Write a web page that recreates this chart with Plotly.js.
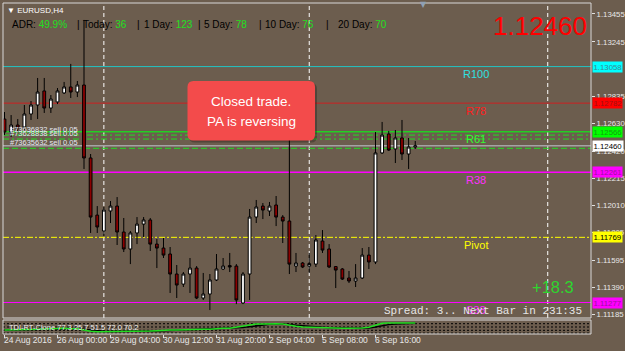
<!DOCTYPE html>
<html><head><meta charset="utf-8">
<script src="https://cdn.plot.ly/plotly-3.0.1.min.js"></script>
<style>html,body{margin:0;padding:0;background:#6c5d4e;overflow:hidden}#chart{width:625px;height:351px}</style>
</head><body><div id="chart"></div>
<script>
// ---------------- DATA ----------------
const barTimes = [
"24 Aug 16:00","24 Aug 20:00",
"25 Aug 00:00","25 Aug 04:00","25 Aug 08:00","25 Aug 12:00","25 Aug 16:00","25 Aug 20:00",
"26 Aug 00:00","26 Aug 04:00","26 Aug 08:00","26 Aug 12:00","26 Aug 16:00","26 Aug 20:00",
"28 Aug 20:00",
"29 Aug 00:00","29 Aug 04:00","29 Aug 08:00","29 Aug 12:00","29 Aug 16:00","29 Aug 20:00",
"30 Aug 00:00","30 Aug 04:00","30 Aug 08:00","30 Aug 12:00","30 Aug 16:00","30 Aug 20:00",
"31 Aug 00:00","31 Aug 04:00","31 Aug 08:00","31 Aug 12:00","31 Aug 16:00","31 Aug 20:00",
"1 Sep 00:00","1 Sep 04:00","1 Sep 08:00","1 Sep 12:00","1 Sep 16:00","1 Sep 20:00",
"2 Sep 00:00","2 Sep 04:00","2 Sep 08:00","2 Sep 12:00","2 Sep 16:00","2 Sep 20:00",
"4 Sep 20:00",
"5 Sep 00:00","5 Sep 04:00","5 Sep 08:00","5 Sep 12:00","5 Sep 16:00","5 Sep 20:00",
"6 Sep 00:00","6 Sep 04:00","6 Sep 08:00","6 Sep 12:00","6 Sep 16:00","6 Sep 20:00",
"7 Sep 00:00","7 Sep 04:00","7 Sep 08:00","7 Sep 12:00","7 Sep 16:00"
];
const openP = [1.12662,1.12564,1.12617,1.12602,1.12700,1.12768,1.12874,1.12745,1.12791,1.12859,
1.12904,1.12866,1.12919,1.12368,1.11937,1.11817,1.11968,1.12005,1.11809,1.11681,
1.11802,1.11869,1.11900,1.11718,1.11688,1.11643,1.11492,1.11416,1.11492,1.11537,
1.11311,1.11341,1.11447,1.11530,1.11556,1.11552,1.11273,1.11492,1.11922,1.12005,
1.11968,1.12013,1.11922,1.11892,1.11552,1.11575,1.11552,1.11567,1.11741,1.11681,
1.11548,1.11530,1.11462,1.11439,1.11462,1.11635,1.11583,1.12406,1.12549,1.12436,
1.12519,1.12398,1.12451];
const highP = [1.12715,1.12692,1.12662,1.12768,1.12798,1.12972,1.12972,1.12843,1.12896,1.12942,
1.13078,1.12949,1.13410,1.12398,1.12005,1.11998,1.12043,1.12073,1.11915,1.11817,
1.11922,1.11922,1.11915,1.11756,1.11764,1.11696,1.11560,1.11507,1.11613,1.11552,
1.11500,1.11492,1.11643,1.11613,1.11651,1.11567,1.11507,1.11983,1.12051,1.12028,
1.12036,1.12081,1.11937,1.12730,1.11651,1.11583,1.11651,1.11786,1.11824,1.11718,
1.11552,1.11537,1.11515,1.11567,1.11688,1.11696,1.12564,1.12640,1.12572,1.12579,
1.12655,1.12519,1.12496];
const lowP = [1.12541,1.12526,1.12557,1.12579,1.12655,1.12662,1.12708,1.12708,1.12775,1.12851,
1.12821,1.12828,1.12285,1.11802,1.11802,1.11779,1.11877,1.11711,1.11658,1.11567,
1.11718,1.11771,1.11666,1.11537,1.11613,1.11349,1.11311,1.11394,1.11349,1.11303,
1.11296,1.11220,1.11439,1.11522,1.11507,1.11265,1.11265,1.11296,1.11877,1.11907,
1.11930,1.11854,1.11726,1.11492,1.11507,1.11537,1.11500,1.11545,1.11651,1.11537,
1.11386,1.11447,1.11424,1.11394,1.11454,1.11530,1.11567,1.12398,1.12421,1.12330,
1.12353,1.12285,1.12436];
const closeP = [1.12564,1.12617,1.12594,1.12700,1.12768,1.12866,1.12745,1.12813,1.12874,1.12904,
1.12866,1.12919,1.12368,1.11922,1.11847,1.11975,1.12005,1.11809,1.11681,1.11802,
1.11869,1.11900,1.11718,1.11688,1.11635,1.11492,1.11409,1.11492,1.11537,1.11311,
1.11341,1.11447,1.11530,1.11552,1.11545,1.11296,1.11492,1.11922,1.11998,1.11975,
1.12005,1.11922,1.11892,1.11567,1.11575,1.11545,1.11571,1.11749,1.11673,1.11545,
1.11522,1.11454,1.11439,1.11462,1.11635,1.11583,1.12406,1.12541,1.12428,1.12519,
1.12398,1.12451,1.12460];

const tdiGreen = [33.7,33.7,33.7,35.5,37.3,37.3,39.1,40.9,42.7,42.7,
40.9,40.9,33.7,26.4,24.6,24.6,26.4,26.4,24.6,26.4,
26.4,28.2,28.2,30.0,33.7,33.7,33.7,35.5,35.5,35.5,
37.3,37.3,40.9,42.7,42.7,48.2,53.6,60.9,66.4,66.4,
68.2,68.2,66.4,59.1,53.6,50.0,48.2,48.2,46.4,44.6,
42.7,42.7,42.7,42.7,44.6,48.2,60.9,70.5,72.0,72.0,
72.0,72.0,72.0];
const tdiSignal = [34.0,34.0,34.0,34.5,35.5,36.5,37.5,38.5,40.0,41.0,
41.5,41.0,38.0,33.0,29.0,26.5,25.5,25.5,25.5,25.5,
26.0,26.5,27.5,28.5,30.0,31.5,32.5,33.5,34.5,35.0,
35.5,36.5,38.0,39.5,41.0,43.5,47.0,52.0,57.0,61.5,
64.5,66.5,66.5,64.0,60.0,56.0,52.5,50.0,48.0,46.5,
45.0,44.0,43.5,43.0,43.5,44.5,50.0,57.0,63.0,66.5,
68.5,69.5,70.2];
const tdiLevels = [68, 50, 32, 17];
const tdiLabel = "TDI-RT-Clone 77.3 25.7 51.5 72.0 70.2";

const tickBars = ["24 Aug 16:00","26 Aug 00:00","29 Aug 04:00","30 Aug 12:00","31 Aug 20:00","2 Sep 04:00","5 Sep 08:00","6 Sep 16:00"];
const tickText = ["24 Aug 2016","26 Aug 00:00","29 Aug 04:00","30 Aug 12:00","31 Aug 20:00","2 Sep 04:00","5 Sep 08:00","6 Sep 16:00"];
const separatorBars = ["29 Aug 00:00","5 Sep 00:00", 82];

const yTicks = [1.13455,1.13245,1.12835,1.12630,1.12420,1.12215,1.12010,1.11805,1.11595,1.11390,1.11185];

const levelNames  = ["R138","R100","R78","R61","R38","Pivot","S38"];
const levelValues = [1.13555,1.13058,1.12782,1.12566,1.12261,1.11769,1.11277];
const levelLine   = ["#e8a020","#22c4c4","#cc2020","#22d022","#ff00ff","#ffff00","#ff00ff"];
const levelText   = ["#f0a020","#30e0e0","#ff2020","#30ff30","#ff30ff","#ffff00","#ff30ff"];
const levelDash   = ["solid","solid","solid","solid","solid","6px,2px,2px,2px","solid"];
const levelWidth  = [1,1,1,1.5,1.5,1,1];

const tagValues = [1.13058,1.12782,1.12566,1.12460,1.12261,1.11769,1.11277];
const tagBg     = ["#00ffff","#ff0000","#00ff00","#ffffff","#ff00ff","#ffff00","#ff00ff"];
const tagFg     = ["#3a8a96","#a01010","#10a010","#000000","#a010a0","#000000","#a010a0"];

const orderPrices = [1.12541,1.12511,1.12441];
const orderLabels = ["#73636832 sell 0.05","#73628838 sell 0.05","#73635632 sell 0.05"];

const adrLabels = ["ADR:","Today:","1 Day:","5 Day:","10 Day:","20 Day:"];
const adrValues = ["49.9%","36","123","78","76","70"];
const symbolLabel = "EURUSD,H4";
const profitText = "+18.3";
const spreadText = "Spread: 3.. Next Bar in 231:35";
const noteLines = ["Closed trade.","PA is reversing"];

// ---------------- LAYOUT HELPERS ----------------
const W=625,H=351,ML=3,MR=34,MT=3,MB=17;
const PW=W-ML-MR, PH=H-MT-MB;
const px = x => (x-ML)/PW;
const py = y => (H-MB-y)/PH;
const mainBottom = 318, tdiTop = 320;
const mainDomain = [(H-MB-mainBottom)/PH, 1];
const tdiDomain = [0, (H-MB-tdiTop)/PH];
const FONT = "Liberation Sans, Arial, sans-serif";
const BG = "#6c5d4e";

const shapes = [];
const annotations = [];

separatorBars.forEach(b => shapes.push({type:'line', xref:'x', yref:'paper', x0:b, x1:b, y0:mainDomain[0], y1:1,
  line:{color:'#ffffff', width:1, dash:'4px,3px'}, layer:'below'}));

levelValues.forEach((v,i) => {
  shapes.push({type:'line', xref:'paper', yref:'y', x0:0, x1:1, y0:v, y1:v,
    line:{color:levelLine[i], width:levelWidth[i], dash:levelDash[i]}, layer:'below'});
});
const orderDash = ["6px,3px,2px,3px","6px,3px,2px,3px","6px,3px"];
orderPrices.forEach((v,i) => shapes.push({type:'line', xref:'paper', yref:'y', x0:0, x1:1, y0:v, y1:v,
  line:{color:'#22dd22', width:1, dash:orderDash[i]}, layer:'below'}));
const lastClose = closeP[closeP.length-1];
shapes.push({type:'line', xref:'paper', yref:'y', x0:0, x1:1, y0:lastClose, y1:lastClose,
  line:{color:'#a4a4a4', width:1.5}, layer:'below'});

tdiLevels.forEach(v => shapes.push({type:'line', xref:'paper', yref:'y2', x0:0, x1:1, y0:v, y1:v,
  line:{color:'#000000', width:1, dash:'2px,2px'}, layer:'below'}));

shapes.push({type:'rect', xref:'x domain', yref:'y domain', x0:0, x1:1, y0:0, y1:1, line:{color:'#d8d8d8', width:1}, layer:'above'});
shapes.push({type:'rect', xref:'x domain', yref:'y2 domain', x0:0, x1:1, y0:0, y1:1, line:{color:'#d8d8d8', width:1}, layer:'above'});

function roundRect(x0,y0,x1,y1,r){
  const X=v=>px(v), Y=v=>py(v);
  return `M${X(x0+r)},${Y(y0)} L${X(x1-r)},${Y(y0)} Q${X(x1)},${Y(y0)} ${X(x1)},${Y(y0+r)} L${X(x1)},${Y(y1-r)} Q${X(x1)},${Y(y1)} ${X(x1-r)},${Y(y1)} L${X(x0+r)},${Y(y1)} Q${X(x0)},${Y(y1)} ${X(x0)},${Y(y1-r)} L${X(x0)},${Y(y0+r)} Q${X(x0)},${Y(y0)} ${X(x0+r)},${Y(y0)} Z`;
}
shapes.push({type:'path', xref:'paper', yref:'paper', path:roundRect(189,83,317,142.5,6), fillcolor:'rgba(0,0,0,0.25)', line:{width:0}, layer:'above'});
shapes.push({type:'path', xref:'paper', yref:'paper', path:roundRect(187.5,81,315,140.5,6), fillcolor:'#f34b4b', line:{width:0}, layer:'above'});

const A = o => annotations.push(Object.assign({showarrow:false, borderpad:0}, o));

levelNames.forEach((n,i) => A({text:n, xref:'paper', yref:'y', x:px(476), y:levelValues[i], xanchor:'center', yanchor:'top', yshift:-0.5,
  font:{family:FONT, size:11, color:levelText[i]}}));

orderPrices.forEach((v,i) => A({text:orderLabels[i], xref:'paper', yref:'y', x:px(9), y:v, xanchor:'left', yanchor:'bottom', yshift:0.5,
  font:{family:FONT, size:7.5, color:'#e4e8f2'}}));

A({text:'▼ '+symbolLabel, xref:'paper', yref:'paper', x:px(6), y:py(10), xanchor:'left', yanchor:'middle', font:{family:FONT, size:8, color:'#ffffff'}});
const adrX = [11, 82, 143, 203, 264, 337];
const sepX = [76, 136, 197, 258, 325];
adrLabels.forEach((l,i) => A({text:`${l} <span style="color:#1ee01e">${adrValues[i]}</span>`, xref:'paper', yref:'paper', x:px(adrX[i]), y:py(24.5),
  xanchor:'left', yanchor:'middle', font:{family:FONT, size:10, color:'#000000'}}));
sepX.forEach(x => A({text:'|', xref:'paper', yref:'paper', x:px(x), y:py(24.5), xanchor:'left', yanchor:'middle', font:{family:FONT, size:10, color:'#000000'}}));

A({text:lastClose.toFixed(5), xref:'paper', yref:'paper', x:px(540), y:py(25.5), xanchor:'center', yanchor:'middle', font:{family:FONT, size:26, color:'#ff0000'}});
A({text:'▼', xref:'paper', yref:'paper', x:px(423), y:py(5), xanchor:'center', yanchor:'middle', font:{family:'DejaVu Sans', size:8, color:'#8fa0b4'}});
A({text:profitText, xref:'paper', yref:'paper', x:px(553), y:py(287), xanchor:'center', yanchor:'middle', font:{family:FONT, size:16.5, color:'#2ed52e'}});
A({text:spreadText, xref:'paper', yref:'paper', x:px(383), y:py(311), xanchor:'left', yanchor:'middle', font:{family:'Liberation Mono, Courier New, monospace', size:11, color:'#e6e6e6'}});

noteLines.forEach((t,i) => A({text:t, xref:'paper', yref:'paper', x:px(251), y:py(i===0?102:121.5), xanchor:'center', yanchor:'middle', font:{family:FONT, size:13.5, color:'#ffffff'}}));

tagValues.forEach((v,i) => A({text:v.toFixed(5), xref:'paper', yref:'y', x:1, y:v, xanchor:'left', yanchor:'middle', xshift:0.5,
  bgcolor:tagBg[i], borderpad:0.5, font:{family:FONT, size:7.8, color:tagFg[i]}}));

tickBars.forEach((b,i) => A({text:tickText[i], xref:'x', yref:'paper', x:b, y:py(340.5), xanchor:'left', yanchor:'middle', xshift:-1.5,
  font:{family:FONT, size:8.5, color:'#e8e8e8'}}));

A({text:tdiLabel, xref:'paper', yref:'paper', x:px(8), y:py(327.5), xanchor:'left', yanchor:'middle', font:{family:FONT, size:7.5, color:'#f0f0f0'}});

// ---------------- TRACES ----------------
const traces = [
  {type:'candlestick', x:barTimes, open:openP, high:highP, low:lowP, close:closeP, xaxis:'x', yaxis:'y',
   increasing:{line:{color:'#000000', width:1}, fillcolor:'#ffffff'},
   decreasing:{line:{color:'#000000', width:1}, fillcolor:'#8b0000'},
   whiskerwidth:0, hoverinfo:'skip', showlegend:false},
  {type:'scatter', mode:'lines', x:barTimes, y:tdiSignal, xaxis:'x', yaxis:'y2', line:{color:'#000000', width:1.5}, hoverinfo:'skip', showlegend:false},
  {type:'scatter', mode:'lines', x:barTimes, y:tdiGreen, xaxis:'x', yaxis:'y2', line:{color:'#22dd22', width:1.5}, hoverinfo:'skip', showlegend:false}
];

const layout = {
  width:W, height:H, margin:{l:ML, r:MR, t:MT, b:MB, pad:0},
  paper_bgcolor:BG, plot_bgcolor:BG, showlegend:false, boxgap:0.4,
  xaxis:{type:'category', categoryorder:'trace', range:[-0.226, 88.53], anchor:'y2', showgrid:false, zeroline:false,
    tickvals:tickBars, ticktext:tickBars.map(()=>''), showticklabels:false, ticks:'outside', ticklen:3, tickcolor:'#e0e0e0',
    rangeslider:{visible:false}, showline:false, fixedrange:true},
  yaxis:{domain:mainDomain, side:'right', range:[1.11160, 1.13538], showgrid:false, zeroline:false,
    tickvals:yTicks, ticktext:yTicks.map(v=>v.toFixed(5)), ticks:'outside', ticklen:3, tickcolor:'#e0e0e0',
    tickfont:{family:FONT, size:7.8, color:'#e8e8e8'}, showline:false, fixedrange:true},
  yaxis2:{domain:tdiDomain, side:'right', range:[11.8, 88.2], showgrid:false, zeroline:false, showticklabels:false, ticks:'', showline:false, fixedrange:true},
  shapes:shapes, annotations:annotations
};
Plotly.newPlot('chart', traces, layout, {staticPlot:true, displayModeBar:false});
</script></body></html>
